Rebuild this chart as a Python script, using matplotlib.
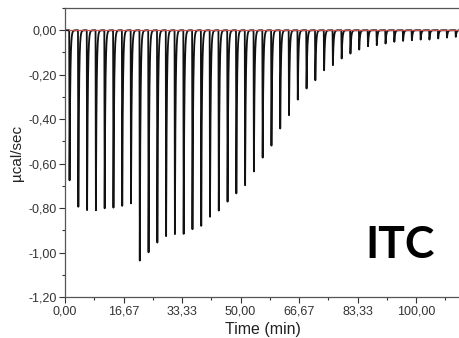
import numpy as np
import matplotlib
matplotlib.use("Agg")
import matplotlib.pyplot as plt
from matplotlib.ticker import MultipleLocator, FuncFormatter

plt.rcParams['font.family'] = ['Liberation Sans', 'DejaVu Sans']

# injection schedule (min) and peak heights (ucal/sec)
first_injection = 1.2
injection_interval = 2.5
peak_heights = [
    -0.675, -0.794, -0.809, -0.810, -0.801, -0.798, -0.790, -0.779,
    -1.036, -0.999, -0.955, -0.926, -0.917, -0.916, -0.895, -0.880,
    -0.839, -0.811, -0.771, -0.734, -0.697, -0.635, -0.573, -0.519,
    -0.442, -0.382, -0.312, -0.262, -0.225, -0.180, -0.157, -0.127,
    -0.105, -0.087, -0.072, -0.067, -0.060, -0.052, -0.048, -0.045,
    -0.042, -0.042, -0.037, -0.033, -0.030,
]
x_ticks = [0, 100 / 6, 200 / 6, 50, 400 / 6, 500 / 6, 100]
y_ticks = [0.0, -0.2, -0.4, -0.6, -0.8, -1.0, -1.2]

# build the raw power trace: fast drop then exponential return to baseline
t = np.arange(0, 113, 0.005)
power = np.zeros_like(t)
inj_times = first_injection + injection_interval * np.arange(len(peak_heights))
for t0, h in zip(inj_times, peak_heights):
    dt = t - t0
    rise = 0.1
    shape = np.where(dt < 0, 0.0,
                     np.where(dt < rise, dt / rise, np.exp(-(dt - rise) / 0.2)))
    power += h * shape

fig = plt.figure(figsize=(4.6, 3.38), dpi=100)
ax = fig.add_axes([0.1413, 0.1213, 0.8587, 0.855])

ax.plot(t, power, color='#111111', lw=1.3)
ax.axhline(0.0, xmin=0.01, color='#c85050', lw=0.9)

ax.set_xlim(0, 112.5)
ax.set_ylim(-1.2, 0.1)

comma = FuncFormatter(lambda v, p: f"{v:.2f}".replace('.', ',').replace('-0,00', '0,00'))
ax.set_xticks(x_ticks)
ax.set_yticks(y_ticks)
ax.xaxis.set_major_formatter(comma)
ax.yaxis.set_major_formatter(comma)
ax.xaxis.set_minor_locator(MultipleLocator(100 / 12))
ax.yaxis.set_minor_locator(MultipleLocator(0.1))

ax.tick_params(which='major', direction='out', length=4, width=0.8, labelsize=9,
               colors='#333333', labelcolor='#333333', pad=2)
ax.tick_params(which='minor', direction='out', length=2.5, width=0.8, colors='#333333')

ax.spines['right'].set_visible(False)
for s in ['left', 'bottom', 'top']:
    ax.spines[s].set_color('#555555')
    ax.spines[s].set_linewidth(0.9)

ax.set_xlabel('Time (min)', fontsize=11.5, color='#222222', labelpad=3)
ax.set_ylabel('µcal/sec', fontsize=11, color='#222222', labelpad=3)

ax.text(0.848, 0.18, 'ITC', transform=ax.transAxes, fontsize=32,
        fontweight='bold', ha='center', va='center', color='black',
        family=['Lato', 'Liberation Sans'])

fig.savefig('out.png', dpi=100)
